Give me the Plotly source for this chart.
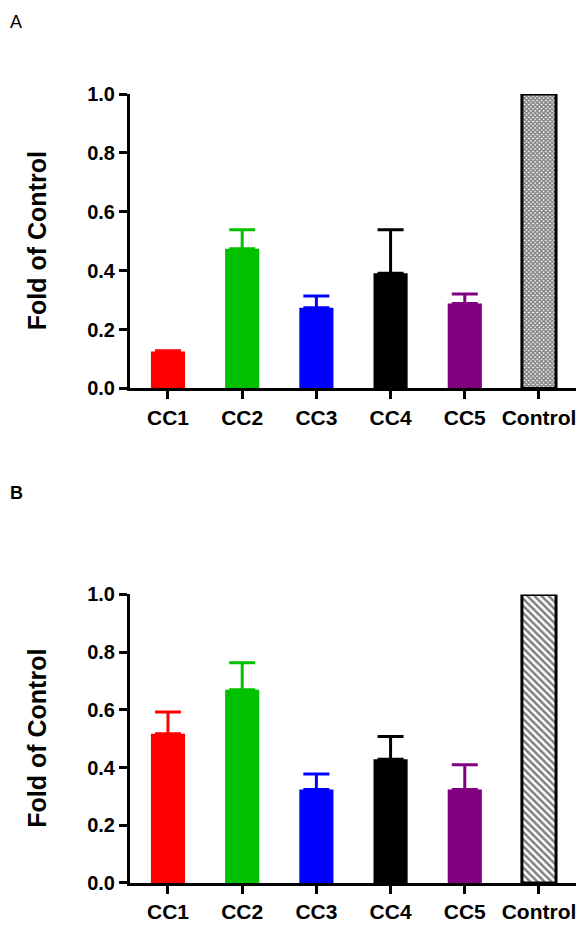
import plotly.graph_objects as go

categories = ["CC1", "CC2", "CC3", "CC4", "CC5", "Control"]
colors = ["#FF0000", "#00C000", "#0000FF", "#000000", "#800080", "#FFFFFF"]

values_a = [0.125, 0.474, 0.274, 0.391, 0.288, 1.0]
errors_a = [0.003, 0.065, 0.040, 0.148, 0.033, 0.0]

values_b = [0.517, 0.670, 0.324, 0.429, 0.324, 1.0]
errors_b = [0.076, 0.093, 0.054, 0.079, 0.086, 0.0]

y_ticks = [0.0, 0.2, 0.4, 0.6, 0.8, 1.0]

FONT = "Liberation Sans, Arial, sans-serif"

# the page body adds an 8px margin around the figure
W, H = 568, 915


def fx(x):
    return x - 8


def fy(y):
    return y - 8


L = fx(130)
T = fy(94)
B = H - fy(898)
R = 0
PW, PH = W - L - R, H - T - B


def px_x(x):
    return (fx(x) - L) / PW


def px_y(y):
    return (H - B - fy(y)) / PH


fig = go.Figure()


def add_panel(values, errors, xaxis, yaxis, pattern):
    for i, cat in enumerate(categories):
        is_ctrl = cat == "Control"
        marker = dict(color=colors[i], line=dict(width=3 if is_ctrl else 0, color="black"))
        if is_ctrl:
            marker["pattern"] = pattern
        fig.add_trace(go.Bar(
            x=[cat], y=[values[i]], width=0.46, marker=marker,
            error_y=dict(type="data", symmetric=False, array=[errors[i]], arrayminus=[0],
                         color=colors[i], thickness=3, width=13, visible=not is_ctrl),
            xaxis=xaxis, yaxis=yaxis, showlegend=False, cliponaxis=False,
        ))


add_panel(values_a, errors_a, "x", "y",
          dict(shape="x", fgcolor="black", bgcolor="white", size=3, solidity=0.7))
add_panel(values_b, errors_b, "x2", "y2",
          dict(shape="\\", fgcolor="black", bgcolor="white", size=5, solidity=0.5))

axis_common = dict(showline=True, linewidth=3, linecolor="black", ticks="outside",
                   ticklen=8, tickwidth=3, tickcolor="black", showgrid=False, zeroline=False)

xa = dict(axis_common, type="category", categoryorder="array", categoryarray=categories,
          range=[-0.512, 5.499], domain=[0, 1],
          tickfont=dict(family=FONT, size=21, color="black", weight="bold"))
ya = dict(axis_common, range=[0, 1.0], tickvals=y_ticks, tickformat=".1f",
          tickfont=dict(family=FONT, size=20, color="black", weight="bold"))

title_font = dict(family=FONT, size=25, color="black", weight="bold")

fig.update_layout(
    width=W, height=H,
    margin=dict(l=L, r=R, t=T, b=B),
    paper_bgcolor="white", plot_bgcolor="white",
    barmode="overlay",
    xaxis=dict(xa, anchor="y"),
    yaxis=dict(ya, domain=[px_y(394), 1.0], anchor="x"),
    xaxis2=dict(xa, anchor="y2"),
    yaxis2=dict(ya, domain=[0.0, px_y(604)], anchor="x2"),
    annotations=[
        dict(text="Fold of Control", xref="paper", yref="paper", x=px_x(37), y=px_y(244),
             textangle=-90, showarrow=False, xanchor="center", yanchor="middle",
             font=title_font),
        dict(text="Fold of Control", xref="paper", yref="paper", x=px_x(37), y=px_y(751),
             textangle=-90, showarrow=False, xanchor="center", yanchor="middle",
             font=title_font),
        dict(text="A", xref="paper", yref="paper", x=-L / PW, y=(H - B) / PH,
             showarrow=False, xanchor="left", yanchor="top",
             font=dict(family=FONT, size=18, color="black")),
        dict(text="B", xref="paper", yref="paper", x=-L / PW, y=px_y(500.5),
             showarrow=False, xanchor="left", yanchor="middle",
             font=dict(family=FONT, size=18, color="black", weight="bold")),
    ],
)

fig.write_html("out.html")
